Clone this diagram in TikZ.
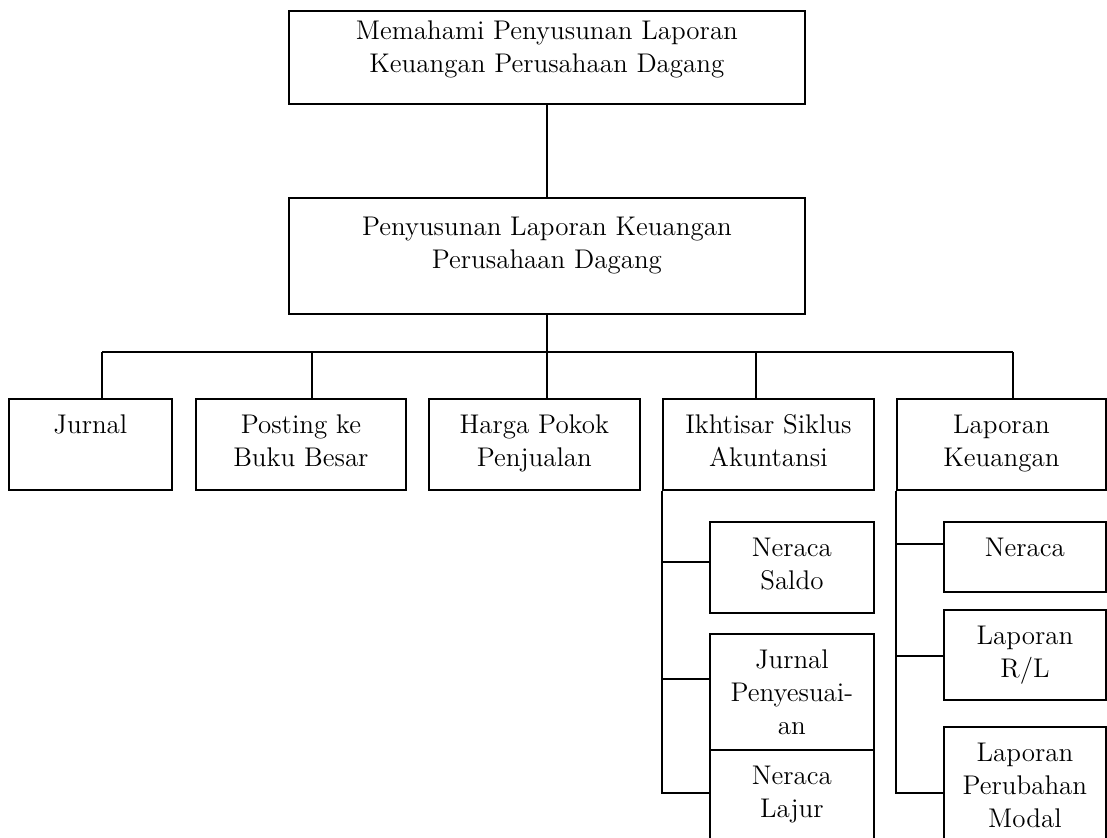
\documentclass[tikz,border=0pt]{standalone}
\usetikzlibrary{calc}

% text set at the top of a box of fixed size
\newcommand\cellbox[4][17.5pt]{\parbox[c][#3][t]{#2}{\centering\rule{0pt}{#1}#4}}

\tikzset{
  cell/.style={draw,line width=0.9pt,inner sep=0pt,anchor=north west,
    font=\fontsize{13.5pt}{16.5pt}\selectfont},
  link/.style={line width=0.9pt}
}

\begin{document}
\begin{tikzpicture}[x=0.5pt,y=-0.5pt]
  \clip (0,0) rectangle (1107,838);
  \node[cell] (top) at (288,10)
    {\cellbox[14.5pt]{258pt}{46.5pt}{Memahami Penyusunan Laporan\\Keuangan Perusahaan Dagang}};
  \node[cell] (mid) at (288,197)
    {\cellbox[19pt]{258pt}{58pt}{Penyusunan Laporan Keuangan\\Perusahaan Dagang}};
  \draw[link] (top.south) -- (mid.north);

  % second level
  \node[cell] (jurnal) at (8,398) {\cellbox{81.5pt}{45.5pt}{Jurnal}};
  \node[cell] (posting) at (195,398) {\cellbox{105pt}{45.5pt}{Posting ke\\Buku Besar}};
  \node[cell] (harga) at (428,398) {\cellbox{105.5pt}{45.5pt}{Harga Pokok\\Penjualan}};
  \node[cell] (ikhtisar) at (662,398) {\cellbox{105.5pt}{45.5pt}{Ikhtisar Siklus\\Akuntansi}};
  \node[cell] (laporan) at (896,398) {\cellbox{104.5pt}{45.5pt}{Laporan\\Keuangan}};

  \coordinate (b1) at (102,352);
  \coordinate (b2) at (312,352);
  \coordinate (b4) at (756,352);
  \coordinate (b5) at (1013,352);
  \draw[link] (mid.south) -- (mid.south |- harga.north);
  \draw[link] (b1) -- (b5);
  \foreach \b/\n in {b1/jurnal,b2/posting,b4/ikhtisar,b5/laporan}
    \draw[link] (\b) -- (\b |- \n.north);

  % ikhtisar siklus akuntansi
  \node[cell] (saldo) at (709,521) {\cellbox{82pt}{45.5pt}{Neraca\\Saldo}};
  \node[cell] (penyesuaian) at (709,633) {\cellbox{82pt}{58pt}{Jurnal\\Penyesuai-\\an}};
  \node[cell] (lajur) at (709,749) {\cellbox{82pt}{50pt}{Neraca\\Lajur}};
  \coordinate (h1) at (709,562);
  \coordinate (h2) at (709,679);
  \coordinate (h3) at (709,793);
  \draw[link] (ikhtisar.south west) |- (h3);
  \foreach \h in {h1,h2}
    \draw[link] (\h -| ikhtisar.west) -- (\h);

  % laporan keuangan
  \node[cell] (neraca) at (943,521) {\cellbox{81pt}{35pt}{Neraca}};
  \node[cell] (rl) at (943,609) {\cellbox{81pt}{45pt}{Laporan\\R/L}};
  \node[cell] (modal) at (943,726) {\cellbox{81pt}{60pt}{Laporan\\Perubahan\\Modal}};
  \coordinate (k1) at (943,544);
  \coordinate (k2) at (943,656);
  \coordinate (k3) at (943,793);
  \draw[link] (laporan.south west) |- (k3);
  \foreach \k in {k1,k2}
    \draw[link] (\k -| laporan.west) -- (\k);
\end{tikzpicture}
\end{document}
